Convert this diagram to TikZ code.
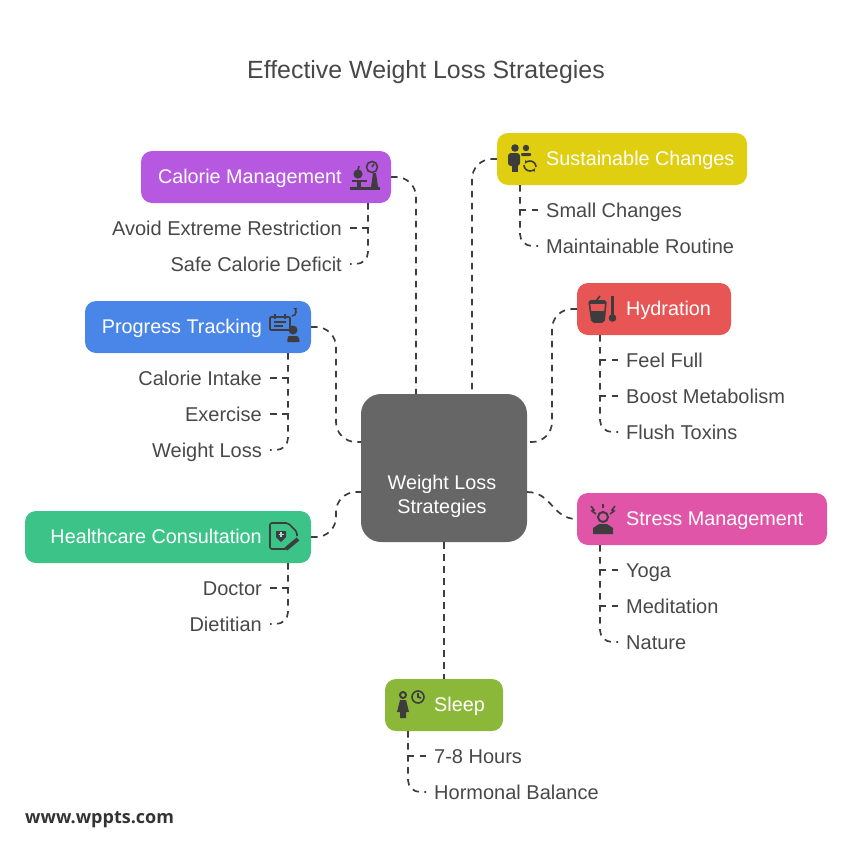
\documentclass[tikz,border=0pt]{standalone}
\usepackage{fontspec}
\setmainfont{Liberation Sans}
\newfontfamily\footfont{Open Sans}
\usetikzlibrary{arrows.meta, calc}
\definecolor{inkc}{HTML}{3D3D3D}
\definecolor{textc}{HTML}{484848}
\tikzset{
    box/.style={rounded corners=11pt, inner sep=0pt, minimum height=52pt},
    boxtxt/.style={text=white, font=\fontsize{19.8}{24}\selectfont, inner sep=0pt, text height=15pt, text depth=2pt},
    item/.style={text=textc, font=\fontsize{20}{24}\selectfont, inner ysep=0pt, inner xsep=8pt, text height=16pt, text depth=2pt},
    link/.style={draw=inkc, line width=1.7pt, dash pattern=on 6.5pt off 5.5pt},
    clink/.style={link, rounded corners=20pt},
    blink/.style={link, rounded corners=12pt},
    icf/.style={fill=inkc, draw=none},
    icl/.style={draw=inkc, line width=1.6pt, fill=none},
    scaleico/.pic={
        \fill[icf] (-15,10) rectangle (15,13);
        \fill[icf] (-13,3) rectangle (2,5);
        \fill[icf] (-8,5) rectangle (-4,10);
        \fill[icf] (8,-4) -- (11,-4) -- (13,10) -- (6,10) -- cycle;
        \draw[icl] (7,-10) circle (5.5);
        \draw[icl] (7,-10) -- (9,-13);
        \fill[icf] (-7,-3) circle (4.6);
        \draw[icl] (-7,-7) -- (-6,-11);
    },
    peopleico/.pic={
        \fill[icf] (-8,-11) circle (3.8);
        \fill[icf] (3,-11) circle (3.2);
        \fill[icf, rounded corners=3pt] (-15,-6) rectangle (-3,7);
        \fill[icf] (-11,5) rectangle (-5,13);
        \fill[icf, rounded corners=1pt] (-2,-6) rectangle (8,-3);
        \draw[icl, -{Stealth[length=4pt]}] (1,6) arc (180:30:6);
        \draw[icl, -{Stealth[length=4pt]}] (13,8) arc (0:-150:6);
    },
    drinkico/.pic={
        \draw[icl, rounded corners=2pt] (-14,-8) -- (3,-8) -- (1,13) -- (-11,13) -- cycle;
        \fill[icf, rounded corners=2pt] (-13,2) -- (2,2) -- (1,13) -- (-11,13) -- cycle;
        \fill[icf] (-14,-8) rectangle (3,-5);
        \draw[icl] (-7,-8) -- (-3,-13);
        \fill[icf] (8,-13) rectangle (11,7);
        \fill[icf] (9.5,9) circle (3.8);
    },
    planico/.pic={
        \draw[icl, rounded corners=1pt] (-15,-10) rectangle (5,3);
        \draw[icl] (-10,-13) -- (-10,-8) (0,-13) -- (0,-8);
        \draw[icl] (-11,-5) -- (1,-5) (-11,-1) -- (-2,-1);
        \draw[icl, -{Stealth[length=4pt]}] (7,-11) arc (90:-70:4);
        \fill[icf] (8,3) circle (4.5);
        \fill[icf, rounded corners=1pt] (2,15) -- (3,9) -- (13,9) -- (15,15) -- cycle;
    },
    careico/.pic={
        \draw[icl, rounded corners=2pt] (1,12) -- (-15,12) -- (-15,-14) -- (3,-14) -- (12,-5) -- (12,-1);
        \fill[icf] (-9,-6) -- (1,-6) -- (1,0) -- (-4,5) -- (-9,0) -- cycle;
        \draw[white!70!teal, line width=1.1pt] (-4,-5) -- (-4,0) (-6.5,-2.5) -- (-1.5,-2.5);
        \draw[inkc, line width=4pt] (1,12) -- (13,2);
    },
    stressico/.pic={
        \draw[inkc, line width=2pt] (0,-2) circle (5);
        \fill[icf] (-10,15) -- (-10,9) -- (-4,5) -- (4,5) -- (10,9) -- (10,15) -- cycle;
        \draw[icl] (-12,-13) -- (-9,-9) -- (-11,-8) -- (-7,-5);
        \draw[icl] (12,-13) -- (9,-9) -- (11,-8) -- (7,-5);
        \draw[icl] (0,-15) -- (0,-11);
    },
    sleepico/.pic={
        \draw[inkc, line width=2pt] (-8,-10) circle (3);
        \fill[icf] (-11,-5) -- (-5,-5) -- (-2,7) -- (-5,7) -- (-5,13) -- (-11,13) -- (-11,7) -- (-14,7) -- cycle;
        \draw[icl] (7,-8) circle (6);
        \draw[icl] (7,-12) -- (7,-8) -- (10,-7);
    }
}
\begin{document}
\begin{tikzpicture}[x=1pt, y=-1pt]
    \useasboundingbox (0,0) rectangle (852,852);

    \node[text=textc, font=\fontsize{24.9}{28}\selectfont, inner sep=0pt, text height=18pt, text depth=0pt] (title) at (426,69) {Effective Weight Loss Strategies};

    \node[box, fill=black!60, minimum width=166pt, minimum height=148pt, rounded corners=20pt] (hub) at (444,468) {};
    \node[text=white, font=\fontsize{19.8}{24}\selectfont, inner sep=0pt, align=center] (hubtxt) at (442,496) {Weight Loss\\Strategies};

    \node[box, fill={rgb,255:red,182;green,88;blue,224}, minimum width=250pt] (cal) at (266,177) {};
    \node[box, fill={rgb,255:red,224;green,206;blue,16}, minimum width=250pt] (sus) at (622,159) {};
    \node[box, fill={rgb,255:red,74;green,134;blue,232}, minimum width=226pt] (prog) at (198,327) {};
    \node[box, fill={rgb,255:red,232;green,85;blue,85}, minimum width=154pt] (hyd) at (654,309) {};
    \node[box, fill={rgb,255:red,60;green,196;blue,136}, minimum width=286pt] (care) at (168,537) {};
    \node[box, fill={rgb,255:red,224;green,85;blue,168}, minimum width=250pt] (stress) at (702,519) {};
    \node[box, fill={rgb,255:red,140;green,184;blue,58}, minimum width=118pt] (sleep) at (444,705) {};

    \node[boxtxt, anchor=east] (caltxt) at (342,177) {Calorie Management};
    \node[boxtxt, anchor=west] (sustxt) at (546,159) {Sustainable Changes};
    \node[boxtxt, anchor=east] (progtxt) at (262,327) {Progress Tracking};
    \node[boxtxt, anchor=west] (hydtxt) at (626,309) {Hydration};
    \node[boxtxt, anchor=east] (caretxt) at (262,537) {Healthcare Consultation};
    \node[boxtxt, anchor=west] (stresstxt) at (626,519) {Stress Management};
    \node[boxtxt, anchor=west] (sleeptxt) at (434,705) {Sleep};

    \pic at (365,177) {scaleico};
    \pic at (523,159) {peopleico};
    \pic at (603,309) {drinkico};
    \pic at (285,327) {planico};
    \pic at (285,537) {careico};
    \pic at (603,519) {stressico};
    \pic at (411,705) {sleepico};

    \node[item, anchor=east] (avoid) at (350,228) {Avoid Extreme Restriction};
    \node[item, anchor=east] (safe) at (350,264) {Safe Calorie Deficit};
    \node[item, anchor=west] (small) at (538,210) {Small Changes};
    \node[item, anchor=west] (routine) at (538,246) {Maintainable Routine};
    \node[item, anchor=east] (intake) at (270,378) {Calorie Intake};
    \node[item, anchor=east] (exer) at (270,414) {Exercise};
    \node[item, anchor=east] (wloss) at (270,450) {Weight Loss};
    \node[item, anchor=west] (full) at (618,360) {Feel Full};
    \node[item, anchor=west] (boost) at (618,396) {Boost Metabolism};
    \node[item, anchor=west] (flush) at (618,432) {Flush Toxins};
    \node[item, anchor=east] (doctor) at (270,588) {Doctor};
    \node[item, anchor=east] (diet) at (270,624) {Dietitian};
    \node[item, anchor=west] (yoga) at (618,570) {Yoga};
    \node[item, anchor=west] (medit) at (618,606) {Meditation};
    \node[item, anchor=west] (nature) at (618,642) {Nature};
    \node[item, anchor=west] (hours) at (426,756) {7-8 Hours};
    \node[item, anchor=west] (horm) at (426,792) {Hormonal Balance};

    \node[anchor=west, inner sep=0pt, text=black!80, font=\footfont\bfseries\fontsize{18}{22}\selectfont, text height=12pt, text depth=0pt] (site) at (25,817) {www.wppts.com};

    \coordinate (calstem) at (368,203);
    \coordinate (susstem) at (520,185);
    \coordinate (progstem) at (288,353);
    \coordinate (hydstem) at (600,335);
    \coordinate (carestem) at (288,563);
    \coordinate (stressstem) at (600,545);
    \coordinate (sleepstem) at (408,731);
    \coordinate (hubnl) at (416,394);
    \coordinate (hubnr) at (472,394);
    \coordinate (hubwt) at (361,442);
    \coordinate (hubet) at (527,442);
    \coordinate (hubwb) at (361,492);
    \coordinate (hubeb) at (527,492);

    \draw[clink] (cal.east) -| (hubnl);
    \draw[clink] (sus.west) -| (hubnr);
    \draw[clink] (prog.east) -- (336,327) |- (hubwt);
    \draw[clink] (hyd.west) -- (552,309) |- (hubet);
    \draw[clink] (care.east) -- (336,537) -- (336,492) -- (hubwb);
    \draw[link] (hubeb) .. controls (552,492) and (552,519) .. (stress.west);
    \draw[link] (hub.south) -- (sleep.north);

    \draw[blink] (calstem) |- (safe.east);
    \draw[link] (avoid.east) -- (avoid.east -| calstem);
    \draw[blink] (susstem) |- (routine.west);
    \draw[link] (small.west) -- (small.west -| susstem);
    \draw[blink] (progstem) |- (wloss.east);
    \draw[link] (intake.east) -- (intake.east -| progstem);
    \draw[link] (exer.east) -- (exer.east -| progstem);
    \draw[blink] (hydstem) |- (flush.west);
    \draw[link] (full.west) -- (full.west -| hydstem);
    \draw[link] (boost.west) -- (boost.west -| hydstem);
    \draw[blink] (carestem) |- (diet.east);
    \draw[link] (doctor.east) -- (doctor.east -| carestem);
    \draw[blink] (stressstem) |- (nature.west);
    \draw[link] (yoga.west) -- (yoga.west -| stressstem);
    \draw[link] (medit.west) -- (medit.west -| stressstem);
    \draw[blink] (sleepstem) |- (horm.west);
    \draw[link] (hours.west) -- (hours.west -| sleepstem);
\end{tikzpicture}
\end{document}
